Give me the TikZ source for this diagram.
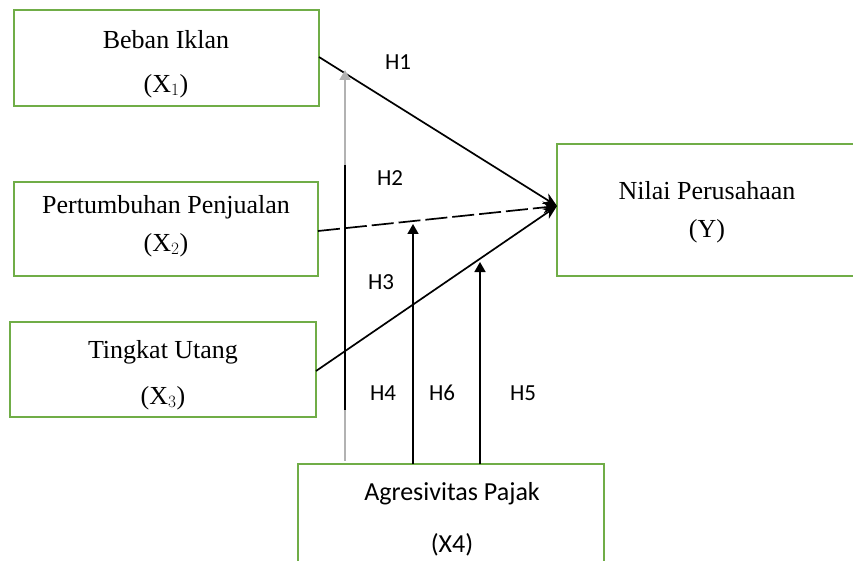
\documentclass[tikz,border=0pt]{standalone}
\usepackage{fontspec}
\setmainfont{Liberation Serif}
\newfontfamily\labfont{Carlito}
\usetikzlibrary{arrows.meta,calc}
\definecolor{boxgreen}{RGB}{112,173,71}
\begin{document}
\begin{tikzpicture}[x=1pt,y=-1pt,
  varbox/.style={draw=boxgreen,line width=1.6pt,fill=white,inner sep=0pt},
  boxtext/.style={font=\fontsize{26}{30}\selectfont},
  modtext/.style={font=\labfont\fontsize{26}{30}\selectfont},
  hlabel/.style={font=\labfont\fontsize{23}{27}\selectfont},
  conn/.style={line width=1.7pt,-{Stealth[length=14pt,width=12pt]}},
  vconn/.style={line width=1.7pt,-{Triangle[length=10pt,width=11pt]}}]
\useasboundingbox (0,0) rectangle (853,561);
% boxes
\draw[varbox] (14,10) rectangle (319,106);
\coordinate (b1) at (319,57);
\node[boxtext] (t1a) at (166,40) {Beban Iklan};
\node[boxtext] (t1b) at (166,86) {(X$_1$)};

\draw[varbox] (14,182) rectangle (318,276);
\coordinate (b2) at (318,231);
\node[boxtext] (t2a) at (166,207) {Pertumbuhan Penjualan};
\node[boxtext] (t2b) at (166,245) {(X$_2$)};

\draw[varbox] (10,322) rectangle (316,417);
\coordinate (b3) at (316,371);
\node[boxtext] (t3a) at (163,352) {Tingkat Utang};
\node[boxtext] (t3b) at (163,398) {(X$_3$)};

\draw[varbox] (557,144) rectangle (860,276);
\coordinate (y) at (557,206);
\node[boxtext] (tya) at (707,191) {Nilai Perusahaan};
\node[boxtext] (tyb) at (707,231) {(Y)};

\draw[varbox] (298,464) rectangle (604,570);
\node[modtext] (tma) at (452,494) {Agresivitas Pajak};
\node[modtext] (tmb) at (452,545) {(X4)};

% direct arrows
\draw[conn] (b1) -- (y);
\draw[conn,dash pattern=on 22pt off 5pt] (b2) -- (y);
\draw[conn] (b3) -- (y);

% moderating arrows
\coordinate (m1s) at (345,461);
\coordinate (m1e) at (345,70);
\coordinate (m2s) at (413,464);
\coordinate (m2e) at (413,224);
\coordinate (m3s) at (480,464);
\coordinate (m3e) at (480,262);
\draw[vconn,draw=gray!60] (m1s) -- (m1e);
\coordinate (k1) at (345,165);
\coordinate (k2) at (345,410);
\draw[line width=1.7pt] (k1) -- (k2);
\draw[vconn] (m2s) -- (m2e);
\draw[vconn] (m3s) -- (m3e);

% labels
\node[hlabel] (h1) at (398,62) {H1};
\node[hlabel] (h2) at (390,178) {H2};
\node[hlabel] (h3) at (381,282) {H3};
\node[hlabel] (h4) at (383,393) {H4};
\node[hlabel] (h6) at (442,393) {H6};
\node[hlabel] (h5) at (523,393) {H5};
\end{tikzpicture}
\end{document}
